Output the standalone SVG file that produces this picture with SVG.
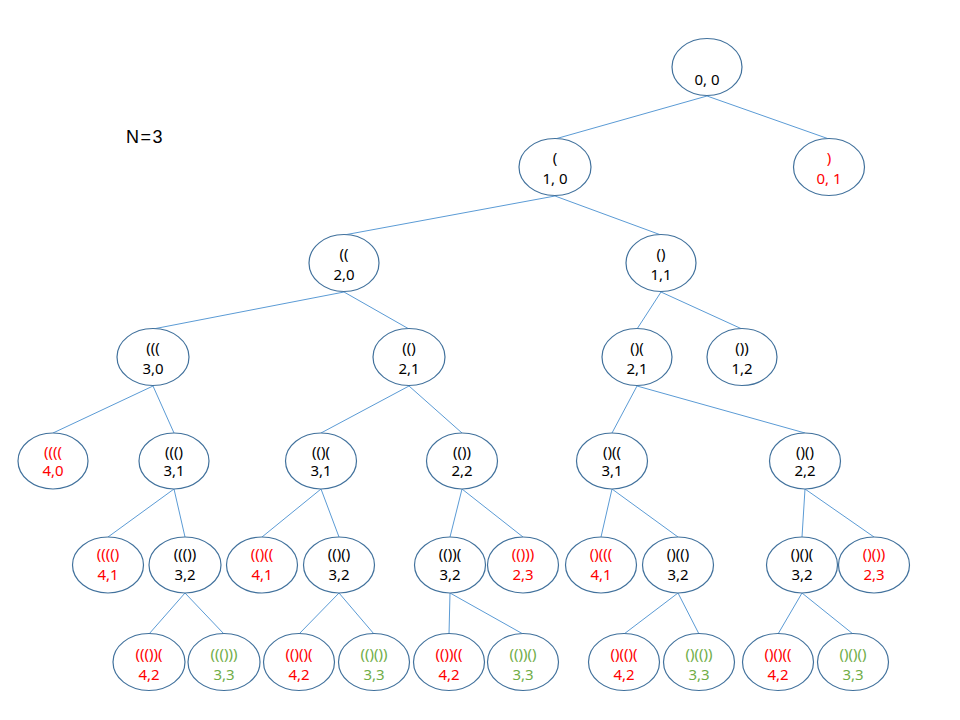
<svg xmlns="http://www.w3.org/2000/svg" width="960" height="720" viewBox="0 0 960 720">
  <style>
    .node ellipse { fill: #ffffff; stroke: #41719C; stroke-width: 1.2; }
    .edges line { stroke: #5B9BD5; stroke-width: 1; }
    text { font-family: "Noto Sans", "Liberation Sans", Arial, sans-serif; font-size: 15px; text-anchor: middle; }
    .k { fill: #000000; }
    .r { fill: #FF0000; }
    .g { fill: #70AD47; }
    .title { font-family: "Liberation Sans", Arial, sans-serif; font-size: 18px; letter-spacing: 1.5px; text-anchor: start; fill: #000000; }
  </style>
  <rect width="960" height="720" fill="#ffffff"/>

  <text class="title" x="126" y="143">N=3</text>

  <g class="edges">
    <line x1="707" y1="96" x2="555" y2="139"/>
    <line x1="707" y1="96" x2="829" y2="139"/>
    <line x1="555" y1="196" x2="344" y2="235"/>
    <line x1="555" y1="196" x2="661" y2="235"/>
    <line x1="344" y1="292" x2="153" y2="329"/>
    <line x1="344" y1="292" x2="409" y2="329"/>
    <line x1="661" y1="292" x2="637" y2="329"/>
    <line x1="661" y1="292" x2="742" y2="329"/>
    <line x1="153" y1="386" x2="53" y2="433"/>
    <line x1="153" y1="386" x2="174" y2="433"/>
    <line x1="409" y1="386" x2="321" y2="433"/>
    <line x1="409" y1="386" x2="462" y2="433"/>
    <line x1="637" y1="386" x2="612" y2="433"/>
    <line x1="637" y1="386" x2="805" y2="433"/>
    <line x1="174" y1="489" x2="108" y2="537"/>
    <line x1="174" y1="489" x2="185" y2="537"/>
    <line x1="321" y1="489" x2="262" y2="537"/>
    <line x1="321" y1="489" x2="339" y2="537"/>
    <line x1="462" y1="489" x2="450" y2="537"/>
    <line x1="462" y1="489" x2="523" y2="537"/>
    <line x1="612" y1="489" x2="601" y2="537"/>
    <line x1="612" y1="489" x2="678" y2="537"/>
    <line x1="805" y1="489" x2="802" y2="537"/>
    <line x1="805" y1="489" x2="874" y2="537"/>
    <line x1="185" y1="593" x2="149" y2="634"/>
    <line x1="185" y1="593" x2="224" y2="634"/>
    <line x1="339" y1="593" x2="299" y2="634"/>
    <line x1="339" y1="593" x2="374" y2="634"/>
    <line x1="450" y1="593" x2="449" y2="634"/>
    <line x1="450" y1="593" x2="523" y2="634"/>
    <line x1="678" y1="593" x2="624" y2="634"/>
    <line x1="678" y1="593" x2="699" y2="634"/>
    <line x1="802" y1="593" x2="778" y2="634"/>
    <line x1="802" y1="593" x2="853" y2="634"/>
  </g>

  <!-- level 0 -->
  <g id="n-root" class="node"><ellipse cx="707" cy="67" rx="35" ry="28.5"/><text class="k" x="707" y="85">0, 0</text></g>
  <!-- level 1 -->
  <g id="n-o" class="node"><ellipse cx="555" cy="167" rx="36" ry="28.5"/><text class="k"><tspan x="555" y="163">(</tspan><tspan x="555" y="184">1, 0</tspan></text></g>
  <g id="n-c" class="node"><ellipse cx="829" cy="167" rx="35.5" ry="28.5"/><text class="r"><tspan x="829" y="163">)</tspan><tspan x="829" y="184">0, 1</tspan></text></g>
  <!-- level 2 -->
  <g id="n-oo" class="node"><ellipse cx="344" cy="263" rx="35" ry="28.5"/><text class="k"><tspan x="344" y="259">((</tspan><tspan x="344" y="280">2,0</tspan></text></g>
  <g id="n-oc" class="node"><ellipse cx="661" cy="263" rx="35" ry="28.5"/><text class="k"><tspan x="661" y="259">()</tspan><tspan x="661" y="280">1,1</tspan></text></g>
  <!-- level 3 -->
  <g id="n-ooo" class="node"><ellipse cx="153" cy="357" rx="36" ry="28.5"/><text class="k"><tspan x="153" y="353">(((</tspan><tspan x="153" y="374">3,0</tspan></text></g>
  <g id="n-ooc" class="node"><ellipse cx="409" cy="357" rx="36" ry="28.5"/><text class="k"><tspan x="409" y="353">(()</tspan><tspan x="409" y="374">2,1</tspan></text></g>
  <g id="n-oco" class="node"><ellipse cx="637" cy="357" rx="35" ry="28.5"/><text class="k"><tspan x="637" y="353">()(</tspan><tspan x="637" y="374">2,1</tspan></text></g>
  <g id="n-occ" class="node"><ellipse cx="742" cy="357" rx="35" ry="28.5"/><text class="k"><tspan x="742" y="353">())</tspan><tspan x="742" y="374">1,2</tspan></text></g>
  <!-- level 4 -->
  <g id="n-oooo" class="node"><ellipse cx="53" cy="461" rx="35" ry="28"/><text class="r"><tspan x="53" y="457">((((</tspan><tspan x="53" y="476">4,0</tspan></text></g>
  <g id="n-oooc" class="node"><ellipse cx="174" cy="461" rx="35" ry="28"/><text class="k"><tspan x="174" y="457">((()</tspan><tspan x="174" y="476">3,1</tspan></text></g>
  <g id="n-ooco" class="node"><ellipse cx="321" cy="461" rx="35.5" ry="28"/><text class="k"><tspan x="321" y="457">(()(</tspan><tspan x="321" y="476">3,1</tspan></text></g>
  <g id="n-oocc" class="node"><ellipse cx="462" cy="461" rx="35.5" ry="28"/><text class="k"><tspan x="462" y="457">(())</tspan><tspan x="462" y="476">2,2</tspan></text></g>
  <g id="n-ocoo" class="node"><ellipse cx="612" cy="461" rx="35.5" ry="28"/><text class="k"><tspan x="612" y="457">()((</tspan><tspan x="612" y="476">3,1</tspan></text></g>
  <g id="n-ococ" class="node"><ellipse cx="805" cy="461" rx="35.5" ry="28"/><text class="k"><tspan x="805" y="457">()()</tspan><tspan x="805" y="476">2,2</tspan></text></g>
  <!-- level 5 -->
  <g id="n-ooooc" class="node"><ellipse cx="108" cy="565" rx="35.5" ry="28"/><text class="r"><tspan x="108" y="559">(((()</tspan><tspan x="108" y="580">4,1</tspan></text></g>
  <g id="n-ooocc" class="node"><ellipse cx="185" cy="565" rx="36" ry="28"/><text class="k"><tspan x="185" y="559">((())</tspan><tspan x="185" y="580">3,2</tspan></text></g>
  <g id="n-oocoo" class="node"><ellipse cx="262" cy="565" rx="35.5" ry="28"/><text class="r"><tspan x="262" y="559">(()((</tspan><tspan x="262" y="580">4,1</tspan></text></g>
  <g id="n-oococ" class="node"><ellipse cx="339" cy="565" rx="35.5" ry="28"/><text class="k"><tspan x="339" y="559">(()()</tspan><tspan x="339" y="580">3,2</tspan></text></g>
  <g id="n-oocco" class="node"><ellipse cx="450" cy="565" rx="35.5" ry="28"/><text class="k"><tspan x="450" y="559">(())(</tspan><tspan x="450" y="580">3,2</tspan></text></g>
  <g id="n-ooccc" class="node"><ellipse cx="523" cy="565" rx="35.5" ry="28"/><text class="r"><tspan x="523" y="559">(()))</tspan><tspan x="523" y="580">2,3</tspan></text></g>
  <g id="n-ocooo" class="node"><ellipse cx="601" cy="565" rx="35.5" ry="28"/><text class="r"><tspan x="601" y="559">()(((</tspan><tspan x="601" y="580">4,1</tspan></text></g>
  <g id="n-ocooc" class="node"><ellipse cx="678" cy="565" rx="35.5" ry="28"/><text class="k"><tspan x="678" y="559">()(()</tspan><tspan x="678" y="580">3,2</tspan></text></g>
  <g id="n-ococo" class="node"><ellipse cx="802" cy="565" rx="35.5" ry="28"/><text class="k"><tspan x="802" y="559">()()(</tspan><tspan x="802" y="580">3,2</tspan></text></g>
  <g id="n-ococc" class="node"><ellipse cx="874" cy="565" rx="35.5" ry="28"/><text class="r"><tspan x="874" y="559">()())</tspan><tspan x="874" y="580">2,3</tspan></text></g>
  <!-- level 6 -->
  <g id="n-ooocco" class="node"><ellipse cx="149" cy="662" rx="36" ry="28.5"/><text class="r"><tspan x="149" y="659">((())(</tspan><tspan x="149" y="680">4,2</tspan></text></g>
  <g id="n-ooocccc" class="node"><ellipse cx="224" cy="662" rx="36" ry="28.5"/><text class="g"><tspan x="224" y="659">((()))</tspan><tspan x="224" y="680">3,3</tspan></text></g>
  <g id="n-oococo" class="node"><ellipse cx="299" cy="662" rx="35.5" ry="28.5"/><text class="r"><tspan x="299" y="659">(()()(</tspan><tspan x="299" y="680">4,2</tspan></text></g>
  <g id="n-oococc" class="node"><ellipse cx="374" cy="662" rx="35.5" ry="28.5"/><text class="g"><tspan x="374" y="659">(()())</tspan><tspan x="374" y="680">3,3</tspan></text></g>
  <g id="n-ooccoo" class="node"><ellipse cx="449" cy="662" rx="35.5" ry="28.5"/><text class="r"><tspan x="449" y="659">(())((</tspan><tspan x="449" y="680">4,2</tspan></text></g>
  <g id="n-ooccoc" class="node"><ellipse cx="523" cy="662" rx="35.5" ry="28.5"/><text class="g"><tspan x="523" y="659">(())()</tspan><tspan x="523" y="680">3,3</tspan></text></g>
  <g id="n-ocooco" class="node"><ellipse cx="624" cy="662" rx="35.5" ry="28.5"/><text class="r"><tspan x="624" y="659">()(()(</tspan><tspan x="624" y="680">4,2</tspan></text></g>
  <g id="n-ocoocc" class="node"><ellipse cx="699" cy="662" rx="35.5" ry="28.5"/><text class="g"><tspan x="699" y="659">()(())</tspan><tspan x="699" y="680">3,3</tspan></text></g>
  <g id="n-ocococo" class="node"><ellipse cx="778" cy="662" rx="35.5" ry="28.5"/><text class="r"><tspan x="778" y="659">()()((</tspan><tspan x="778" y="680">4,2</tspan></text></g>
  <g id="n-ocococc" class="node"><ellipse cx="853" cy="662" rx="35.5" ry="28.5"/><text class="g"><tspan x="853" y="659">()()()</tspan><tspan x="853" y="680">3,3</tspan></text></g>
</svg>
